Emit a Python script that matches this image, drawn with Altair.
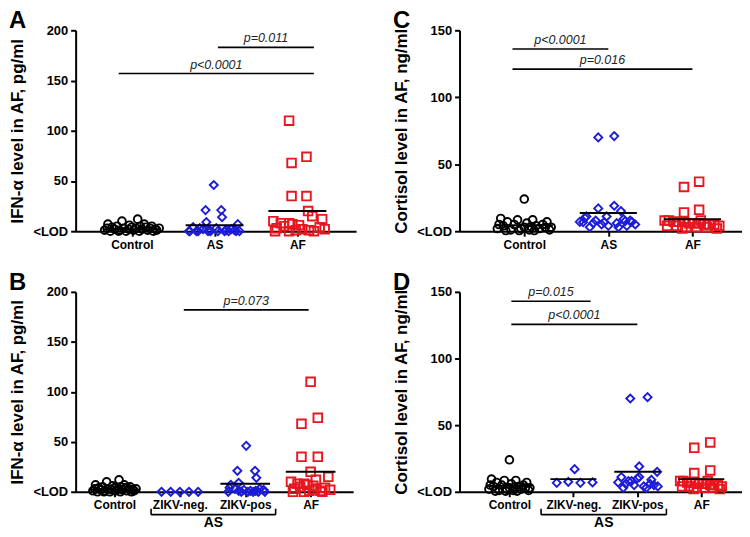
import altair as alt
import pandas as pd

FONT = "Liberation Sans"
BLACK = "#000000"
BLUE = "#1c1cd8"
RED = "#e8161e"

# ---------------- IFN-alpha (panels A, B) ----------------
ctrl_ifn_val = [1, 3, 7, 0, 4, 2, 5, 1, 10, 3, 0, 2, 6, 4, 1, 3, 12, 0, 2, 7, 4, 1, 3, 5, 0, 2, 1, 3, 0, 5]
ctrl_ifn_jit = [-0.33, -0.30, -0.29, -0.26, -0.24, -0.21, -0.18, -0.15, -0.12, -0.10, -0.07, -0.04, -0.03, 0.0, 0.02,
                0.05, 0.07, 0.09, 0.12, 0.15, 0.17, 0.19, 0.22, 0.24, 0.26, 0.28, 0.30, 0.33, -0.16, 0.10]

as_neg_ifn_val = [0, 0, 0, 0, 0]
as_pos_ifn_val = [46, 21, 21, 14, 9, 7, 4, 3, 3, 2, 2, 1, 1, 1, 0, 0, 0, 0, 0, 0]
as_neg_ifn_jit_A = [-0.30, -0.22, -0.05, 0.12, 0.26]
as_pos_ifn_jit_A = [-0.01, -0.11, 0.08, 0.09, -0.10, 0.28, -0.26, -0.18, 0.02, -0.14, 0.20, -0.06, 0.14, 0.24,
                    -0.31, -0.20, -0.08, 0.04, 0.17, 0.30]
as_neg_ifn_jit_B = [-0.28, -0.14, 0.0, 0.14, 0.28]
as_pos_ifn_jit_B = [0.015, -0.12, 0.15, 0.17, -0.10, -0.22, -0.24, -0.16, 0.22, -0.02, 0.28, 0.08, -0.10, 0.16,
                    -0.26, -0.06, 0.04, 0.12, 0.20, 0.30]

af_ifn_val = [110, 74, 68, 35, 35, 20, 15, 12, 10, 8, 7, 8, 6, 5, 4, 3, 2, 1, 1, 0, 0, 2, 0]
af_ifn_jit_A = [-0.10, 0.11, -0.07, -0.07, 0.11, 0.13, 0.18, 0.30, -0.29, -0.20, -0.06, -0.10, 0.02, -0.16, 0.27,
                -0.25, 0.06, 0.14, -0.02, -0.10, 0.20, 0.33, -0.27]
af_ifn_jit_B = [0.0, 0.11, -0.14, -0.14, 0.11, 0.0, 0.27, 0.08, -0.30, -0.20, -0.05, -0.10, 0.04, -0.16, 0.22,
                -0.25, 0.06, 0.15, -0.02, -0.10, 0.18, 0.30, -0.27]

# ---------------- Cortisol (panels C, D) ----------------
ctrl_cor_val = [24, 9.5, 7, 8.5, 6, 8.5, 7, 3, 2, 4, 1, 5, 2, 3, 1, 4, 2, 5, 1, 0.5, 0.5, 0.5, 3, 5, 3.5]
ctrl_cor_jit = [0.0, -0.28, -0.20, -0.08, 0.03, 0.10, 0.27, 0.32, -0.32, -0.25, -0.16, -0.12, -0.04, 0.0, 0.06,
                0.14, 0.18, 0.22, 0.30, -0.22, -0.06, 0.12, 0.25, -0.30, 0.08]

as_neg_cor_val = [6.7, 7.5, 17, 6.7, 7]
as_pos_cor_val = [70, 71, 19, 15, 11, 11, 8, 7, 6, 6, 5, 5, 4, 4, 3, 3, 8, 9, 10]
as_neg_cor_jit_C = [-0.30, 0.20, -0.12, -0.05, 0.28]
as_pos_cor_jit_C = [-0.12, 0.07, 0.07, 0.15, -0.26, -0.02, 0.26, -0.34, 0.10, -0.18, 0.32, -0.08, 0.0, 0.22,
                    -0.22, 0.12, -0.15, 0.18, -0.28]
as_neg_cor_jit_D = [-0.26, -0.08, 0.02, 0.11, 0.30]
as_pos_cor_jit_D = [-0.11, 0.16, 0.03, 0.31, -0.25, 0.03, -0.09, -0.30, 0.20, -0.18, 0.26, -0.05, 0.10, 0.32,
                    -0.22, 0.14, -0.14, 0.22, 0.0]

af_cor_val = [37, 33, 16, 14, 8, 8, 7, 7, 7, 6, 6, 6, 5, 5, 5, 4, 4, 4, 3, 3, 3, 2, 2, 8]
af_cor_jit_C = [0.08, -0.10, 0.08, -0.10, -0.33, -0.28, -0.22, -0.16, -0.10, -0.04, 0.02, 0.08, 0.14, 0.20, 0.26,
                0.32, -0.30, -0.19, -0.07, 0.05, 0.17, 0.29, -0.12, 0.10]
af_cor_jit_D = [0.14, -0.11, 0.14, -0.11, -0.33, -0.28, -0.22, -0.16, -0.10, -0.04, 0.02, 0.08, 0.14, 0.20, 0.26,
                0.32, -0.30, -0.19, -0.07, 0.05, 0.17, 0.29, -0.12, 0.10]

# central lines (group, value)
lines_A = [(1, 2), (2, 6), (3, 20)]
lines_B = [(1, 2), (3, 8), (4, 20)]
lines_C = [(1, 4.5), (2, 13.6), (3, 9)]
lines_D = [(1, 4.5), (2, 9.5), (3, 15), (4, 9.5)]

# significance bars: (x1, x2, y, label)
sig_A = [(0.84, 3.2, 157, "p<0.0001"), (2.04, 3.2, 183, "p=0.011")]
sig_B = [(2.06, 3.97, 182, "p=0.073")]
sig_C = [(0.86, 2.0, 136, "p<0.0001"), (0.86, 3.0, 121, "p=0.016")]
sig_D = [(1.03, 2.27, 143, "p=0.015"), (1.03, 3.0, 125.6, "p<0.0001")]

labels3 = ["Control", "AS", "AF"]
labels4 = ["Control", "ZIKV-neg.", "ZIKV-pos", "AF"]


def label_expr(labels):
    expr = "''"
    for i in range(len(labels), 0, -1):
        expr = f"datum.value == {i} ? '{labels[i-1]}' : ({expr})"
    return expr


def panel(letter, groups, lines, sigs, xdom, labels, ymax, ytitle, w, h, halfw, bracket=None):
    xs = alt.Scale(domain=xdom, nice=False, zero=False)
    ys = alt.Scale(domain=[0, ymax], nice=False, zero=True)
    xaxis = alt.Axis(values=list(range(1, len(labels) + 1)), labelExpr=label_expr(labels), title=None,
                     grid=False, domainWidth=2, tickWidth=2, tickSize=5, labelFont=FONT, labelFontWeight="bold",
                     labelFontSize=12, labelColor="black", domainColor="black", tickColor="black",
                     labelPadding=3, labelOverlap=False, labelFlush=False)
    yaxis = alt.Axis(values=list(range(0, ymax + 1, 50)), labelExpr="datum.value == 0 ? '<LOD' : datum.label",
                     title=ytitle, titleFont=FONT, titleFontSize=17, titleFontWeight="bold", titleColor="black",
                     titlePadding=6, grid=False, domainWidth=2, tickWidth=2, tickSize=5, labelFont=FONT,
                     labelFontWeight="bold", labelFontSize=13, labelColor="black", domainColor="black",
                     tickColor="black", labelPadding=3, labelOverlap=False, labelFlush=False)
    X = lambda f: alt.X(f, scale=xs, axis=xaxis)
    Y = lambda f: alt.Y(f, scale=ys, axis=yaxis)
    layers = []
    for pos, jit, val, shape, color, size in groups:
        df = pd.DataFrame({"x": [pos + j for j in jit], "v": val})
        layers.append(
            alt.Chart(df).mark_point(shape=shape, filled=False, strokeWidth=1.9, size=size, color=color,
                                     opacity=1).encode(x=X("x:Q"), y=Y("v:Q")))
    ldf = pd.DataFrame({"x": [g - halfw for g, _ in lines], "x2": [g + halfw for g, _ in lines],
                        "v": [v for _, v in lines]})
    layers.append(alt.Chart(ldf).mark_rule(color=BLACK, strokeWidth=2).encode(
        x=X("x:Q"), x2="x2:Q", y=Y("v:Q")))
    sdf = pd.DataFrame({"x": [s[0] for s in sigs], "x2": [s[1] for s in sigs], "v": [s[2] for s in sigs],
                        "xm": [(s[0] + s[1]) / 2 for s in sigs], "t": [s[3] for s in sigs]})
    layers.append(alt.Chart(sdf).mark_rule(color=BLACK, strokeWidth=1.6).encode(
        x=X("x:Q"), x2="x2:Q", y=Y("v:Q")))
    layers.append(alt.Chart(sdf).mark_text(font=FONT, fontSize=12.5, fontStyle="italic", color="#222222",
                                           baseline="bottom", dy=-2).encode(
        x=X("xm:Q"), y=Y("v:Q"), text="t:N"))
    if bracket is not None:
        bx1, bx2, btxt = bracket
        bdf = pd.DataFrame({"x": [bx1], "x2": [bx2], "xm": [(bx1 + bx2) / 2], "t": [btxt]})
        edf = pd.DataFrame({"x": [bx1, bx2]})
        layers.append(alt.Chart(bdf).mark_rule(color=BLACK, strokeWidth=1.6).encode(
            x=X("x:Q"), x2="x2:Q", y=alt.value(h + 23)))
        layers.append(alt.Chart(edf).mark_rule(color=BLACK, strokeWidth=1.6).encode(
            x=X("x:Q"), y=alt.value(h + 17), y2=alt.value(h + 23)))
        layers.append(alt.Chart(bdf).mark_text(font=FONT, fontSize=14, fontWeight="bold", color=BLACK,
                                               baseline="middle").encode(
            x=X("xm:Q"), y=alt.value(h + 31), text="t:N"))
    tdf = pd.DataFrame({"t": [letter]})
    layers.append(alt.Chart(tdf).mark_text(font=FONT, fontSize=24, fontWeight="bold", color=BLACK,
                                           align="left", baseline="alphabetic").encode(
        x=alt.value(-67), y=alt.value(-2), text="t:N"))
    return alt.layer(*layers).properties(width=w, height=h)


A = panel("A", [(1, ctrl_ifn_jit, ctrl_ifn_val, "circle", BLACK, 60),
                (2, as_neg_ifn_jit_A + as_pos_ifn_jit_A, as_neg_ifn_val + as_pos_ifn_val, "diamond", BLUE, 65),
                (3, af_ifn_jit_A, af_ifn_val, "square", RED, 75)],
          lines_A, sig_A, [0.32, 3.71], labels3, 200, "IFN-α level in AF, pg/ml", 282, 202, 0.35)

B = panel("B", [(1, ctrl_ifn_jit, ctrl_ifn_val, "circle", BLACK, 60),
                (2, as_neg_ifn_jit_B, as_neg_ifn_val, "diamond", BLUE, 65),
                (3, as_pos_ifn_jit_B, as_pos_ifn_val, "diamond", BLUE, 65),
                (4, af_ifn_jit_B, af_ifn_val, "square", RED, 75)],
          lines_B, sig_B, [0.406, 4.65], labels4, 200, "IFN-α level in AF, pg/ml", 279, 201, 0.38,
          bracket=(1.56, 3.465, "AS"))

C = panel("C", [(1, ctrl_cor_jit, ctrl_cor_val, "circle", BLACK, 60),
                (2, as_neg_cor_jit_C + as_pos_cor_jit_C, as_neg_cor_val + as_pos_cor_val, "diamond", BLUE, 65),
                (3, af_cor_jit_C, af_cor_val, "square", RED, 75)],
          lines_C, sig_C, [0.23, 3.59], labels3, 150, "Cortisol level in AF, ng/ml", 284, 202, 0.34)

D = panel("D", [(1, ctrl_cor_jit, ctrl_cor_val, "circle", BLACK, 60),
                (2, as_neg_cor_jit_D, as_neg_cor_val, "diamond", BLUE, 65),
                (3, as_pos_cor_jit_D, as_pos_cor_val, "diamond", BLUE, 65),
                (4, af_cor_jit_D, af_cor_val, "square", RED, 75)],
          lines_D, sig_D, [0.22, 4.637], labels4, 150, "Cortisol level in AF, ng/ml", 284, 201, 0.36,
          bracket=(1.495, 3.455, "AS"))

left = alt.vconcat(A, B, spacing=21)
right = alt.vconcat(C, D, spacing=21)
chart = alt.hconcat(left, right, spacing=36).properties(
    padding={"left": 0, "top": 0, "right": 0, "bottom": -2}).configure_view(stroke=None)

chart.save("out.html", embed_options={"renderer": "svg", "actions": False})
